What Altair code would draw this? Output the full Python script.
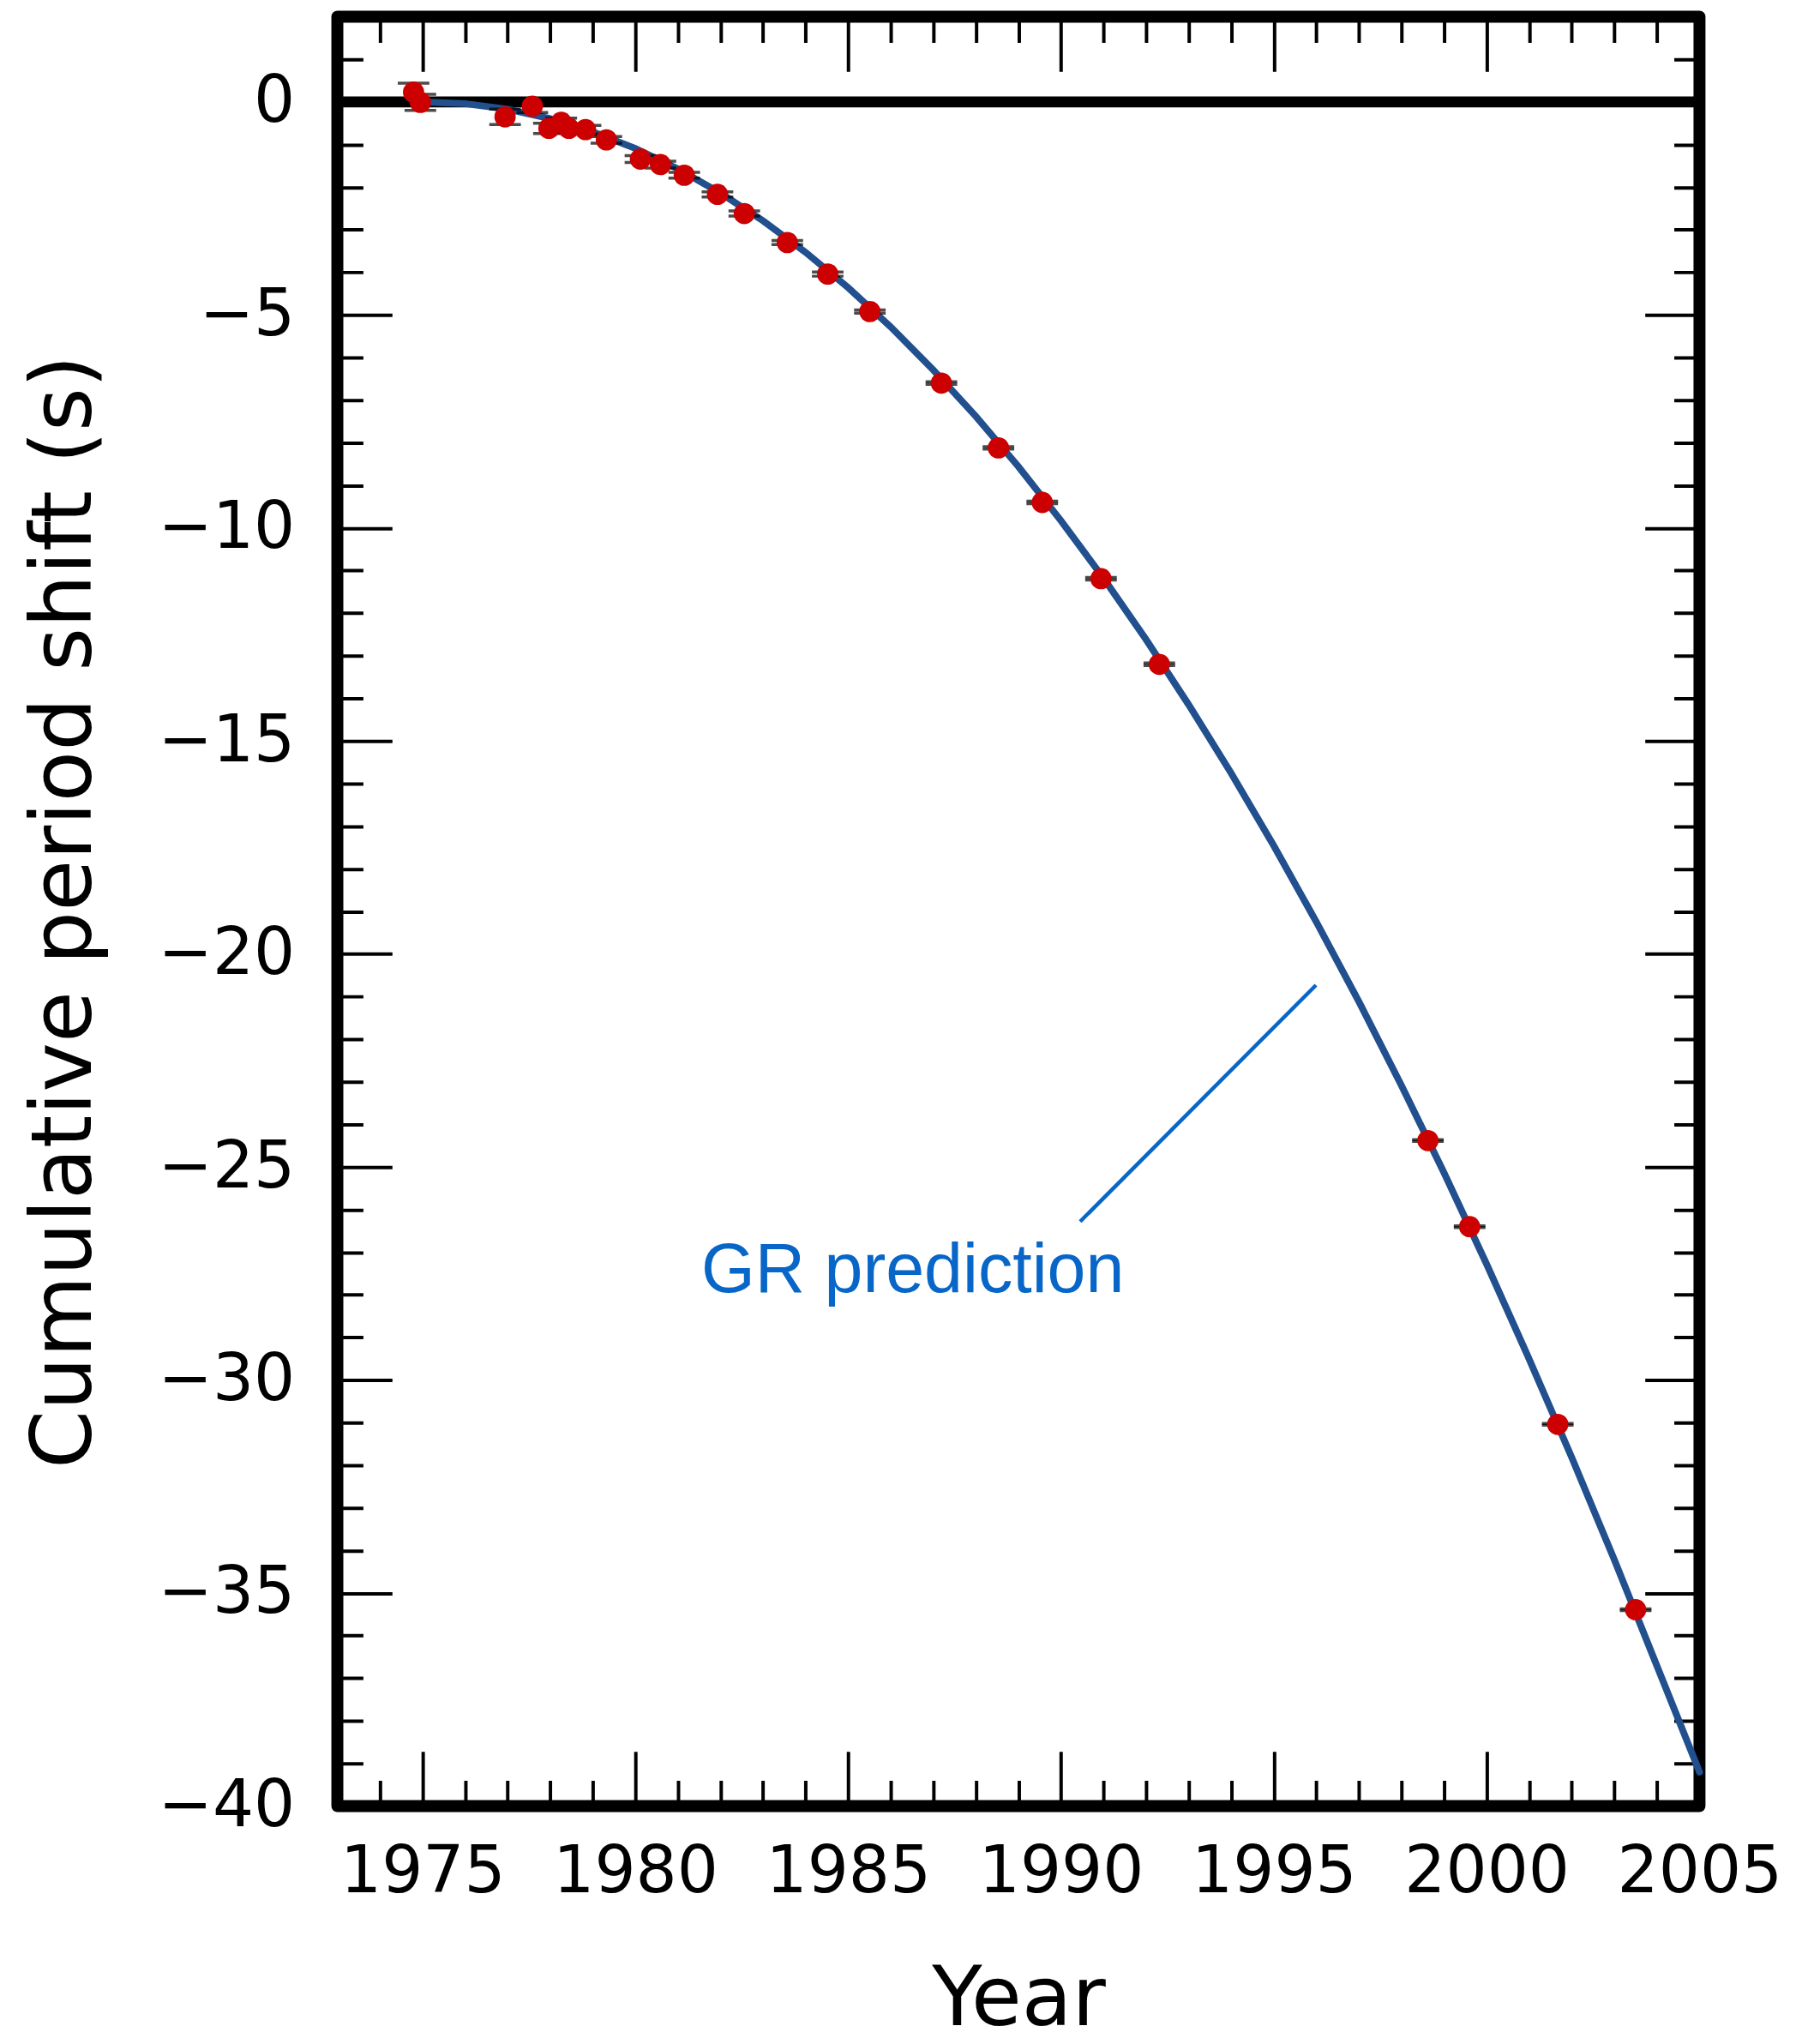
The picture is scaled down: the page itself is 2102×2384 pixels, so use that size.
import altair as alt
import pandas as pd

obs_year = [1974.79, 1974.95, 1976.94, 1977.58, 1977.97, 1978.26, 1978.44, 1978.83, 1979.32,
            1980.12, 1980.59, 1981.15, 1981.93, 1982.56, 1983.57, 1984.52, 1985.51,
            1987.19, 1988.53, 1989.56, 1990.94, 1992.31, 1998.62, 1999.60, 2001.67, 2003.50]
obs_shift = [0.23, -0.01, -0.35, -0.10, -0.62, -0.48, -0.62, -0.65, -0.89,
             -1.34, -1.47, -1.72, -2.17, -2.62, -3.30, -4.04, -4.92,
             -6.60, -8.12, -9.40, -11.19, -13.20, -24.38, -26.40, -31.04, -35.39]
obs_err = [0.21, 0.19, 0.18, 0.15, 0.12, 0.10, 0.10, 0.10, 0.08,
           0.08, 0.08, 0.07, 0.06, 0.06, 0.05, 0.05, 0.04,
           0.03, 0.03, 0.03, 0.03, 0.03, 0.02, 0.02, 0.02, 0.02]

# ---- GR prediction curve ----
gr_year = list(range(1975, 2006))
gr_shift = [0.0, -0.04, -0.17, -0.39, -0.70, -1.09, -1.57, -2.14, -2.79, -3.53,
            -4.36, -5.28, -6.29, -7.38, -8.56, -9.83, -11.18, -12.62, -14.15, -15.76,
            -17.46, -19.25, -21.12, -23.09, -25.14, -27.28, -29.51, -31.82, -34.22, -36.71,
            -39.20]

# ---- axis ticks ----
x_ticks = list(range(1973, 2006))
y_ticks = list(range(-40, 3))

# ---- annotation ----
ann_text = ["GR prediction"]
ann_text_x = [1981.55]
ann_text_y = [-27.93]
ann_line_x = [1990.45]
ann_line_y = [-26.28]
ann_line_x2 = [1995.99]
ann_line_y2 = [-20.73]

FONT = "DejaVu Sans"
MAJOR = 64
MINOR = 30
tick_dash = {"condition": {"test": "datum.value % 5 === 0", "value": [1000, 1]},
             "value": [0, MAJOR - MINOR, MINOR, 1000]}

xscale = alt.Scale(domain=[1973, 2005], nice=False, zero=False)
yscale = alt.Scale(domain=[-40, 2], nice=False, zero=False)


def make_axis(orient, values, labels, title=None, fmt=None, label_pad=40, title_size=100, title_pad=60):
    kw = dict(
        orient=orient, values=values, offset=-MAJOR, domain=False, grid=False,
        ticks=True, tickSize=MAJOR, tickColor="black", tickWidth=4, tickDash=tick_dash,
        labels=labels,
    )
    if labels:
        kw.update(
            labelExpr="datum.value % 5 === 0 ? datum.label : ''",
            labelFont=FONT, labelFontSize=76, labelColor="black",
            labelPadding=label_pad, labelFlush=False, labelOverlap=False, labelLimit=0,
        )
    if fmt:
        kw["format"] = fmt
    if title:
        kw.update(title=title, titleFont=FONT, titleFontSize=title_size, titleFontWeight="normal",
                  titleColor="black", titlePadding=title_pad, titleLimit=0)
    else:
        kw["title"] = None
    return alt.Axis(**kw)


obs_df = pd.DataFrame({
    "year": obs_year,
    "shift": obs_shift,
    "lo": [s - e for s, e in zip(obs_shift, obs_err)],
    "hi": [s + e for s, e in zip(obs_shift, obs_err)],
})
caps_df = pd.DataFrame({
    "year": obs_year + obs_year,
    "y": list(obs_df["lo"]) + list(obs_df["hi"]),
})
gr_df = pd.DataFrame({"year": gr_year, "shift": gr_shift})
zero_df = pd.DataFrame({"y": [0]})
ann_df = pd.DataFrame({"x": ann_text_x, "y": ann_text_y, "text": ann_text})
ann_line_df = pd.DataFrame({"x": ann_line_x, "y": ann_line_y, "x2": ann_line_x2, "y2": ann_line_y2})

zero = alt.Chart(zero_df).mark_rule(color="black", strokeWidth=13).encode(
    y=alt.Y("y:Q", scale=yscale, axis=None)
)

curve = alt.Chart(gr_df).mark_line(color="#22508e", strokeWidth=8, strokeCap="round").encode(
    x=alt.X("year:Q", scale=xscale,
            axis=make_axis("bottom", x_ticks, True, title="Year", fmt="d",
                           label_pad=40, title_size=96, title_pad=65)),
    y=alt.Y("shift:Q", scale=yscale,
            axis=make_axis("left", y_ticks, True, title="Cumulative period shift (s)",
                           label_pad=50, title_size=98, title_pad=132)),
)

err_rule = alt.Chart(obs_df).mark_rule(color="black", strokeWidth=3).encode(
    x=alt.X("year:Q", scale=xscale, axis=None),
    y=alt.Y("lo:Q", scale=yscale, axis=None),
    y2="hi:Q",
)

caps = alt.Chart(caps_df).mark_tick(color="black", orient="horizontal", size=37, thickness=3.5).encode(
    x=alt.X("year:Q", scale=xscale, axis=None),
    y=alt.Y("y:Q", scale=yscale, axis=None),
)

points = alt.Chart(obs_df).mark_circle(color="#cc0000", size=620, opacity=1).encode(
    x=alt.X("year:Q", scale=xscale, axis=make_axis("top", x_ticks, False)),
    y=alt.Y("shift:Q", scale=yscale, axis=make_axis("right", y_ticks, False)),
)

ann_line = alt.Chart(ann_line_df).mark_rule(color="#0766c7", strokeWidth=4.5).encode(
    x=alt.X("x:Q", scale=xscale, axis=None),
    y=alt.Y("y:Q", scale=yscale, axis=None),
    x2="x2:Q",
    y2="y2:Q",
)

ann_label = alt.Chart(ann_df).mark_text(
    align="left", baseline="alphabetic", font="Liberation Sans", fontSize=81, color="#0766c7"
).encode(
    x=alt.X("x:Q", scale=xscale, axis=None),
    y=alt.Y("y:Q", scale=yscale, axis=None),
    text="text:N",
)

chart = alt.layer(zero, curve, err_rule, caps, points, ann_line, ann_label).resolve_axis(
    x="independent", y="independent"
).properties(
    width=1595,
    height=2095,
    autosize=alt.AutoSizeParams(type="none"),
    padding={"left": 387, "top": 7, "right": 112, "bottom": 274},
).configure(
    background="white"
).configure_view(
    stroke="black", strokeWidth=14, strokeJoin="round"
)

chart.save("out.html", embed_options={"renderer": "svg", "actions": False})
